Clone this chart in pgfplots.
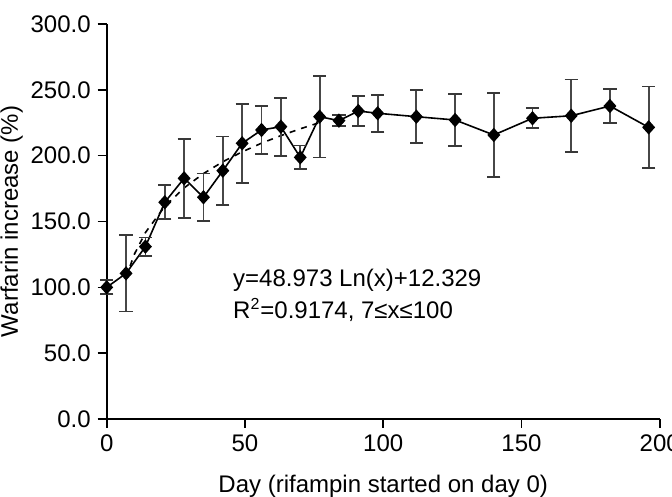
\documentclass[border=0pt]{standalone}
\usepackage{pgfplots}
\pgfplotsset{compat=1.18}
\usepackage{pgfplotstable}
\usepackage{fontspec}
\setmainfont{Liberation Sans}

% Mean warfarin dose increase by day, with error (+/-)
\pgfplotstableread{
day  inc    err
0    100.0  5.3
7    110.6  29.0
14   130.9  7.0
21   164.6  13.0
28   182.8  30.0
35   168.4  18.0
42   188.6  26.0
49   209.4  30.0
56   219.5  18.0
63   222.0  22.0
70   198.7  9.0
77   229.6  31.0
84   226.6  4.0
91   233.9  11.5
98   232.2  14.0
112  229.6  20.0
126  227.1  20.0
140  215.7  32.0
154  228.4  7.5
168  230.3  27.5
182  237.7  12.7
196  221.5  31.0
}\warfarin

% Logarithmic trend line
\pgfplotstableread{
day  fit
7    107.6
10   125.1
14   141.6
21   161.4
28   175.5
35   186.4
42   195.4
49   202.9
56   209.5
63   215.2
70   220.4
77   225.1
}\trend

\begin{document}
\begin{tikzpicture}
\begin{axis}[
  scale only axis,
  width=276.5pt, height=197.5pt,
  xmin=0, xmax=200, ymin=0, ymax=300,
  axis lines*=left,
  axis line style={line width=0.8pt, -},
  tick align=outside,
  major tick length=4.5pt,
  tick style={line width=0.8pt, black},
  xtick={0,50,...,200},
  ytick={0,50,...,300},
  clip=false,
  tick label style={font=\fontsize{12}{14}\selectfont},
  /pgf/number format/assume math mode=true,
  yticklabel style={/pgf/number format/.cd, fixed, fixed zerofill, precision=1},
  xlabel={Day (rifampin started on day 0)},
  ylabel={Warfarin increase (\%)},
  label style={font=\fontsize{12}{14}\selectfont},
  xlabel style={at={(axis description cs:0.5,-0.1873)}, anchor=base},
  ylabel style={at={(axis description cs:-0.172,0.5)}, anchor=center},
]
\addplot[black, dashed, line width=0.8pt] table[x=day, y=fit] {\trend};
\addplot[black, line width=0.8pt, mark=diamond*, mark size=3pt,
  mark options={solid, xscale=1.2},
  error bars/.cd, y dir=both, y explicit,
  error bar style={line width=0.9pt, black!72},
  error mark options={rotate=90, mark size=3.3pt, line width=0.9pt, black!78}]
  table[x=day, y=inc, y error=err] {\warfarin};
\node[anchor=base west, inner sep=0, font=\fontsize{12}{14}\selectfont]
  at (axis cs:45.6,100.5) {y=48.973 Ln(x)+12.329};
\node[anchor=base west, inner sep=0, font=\fontsize{12}{14}\selectfont]
  at (axis cs:45.6,76.5) {R\textsuperscript{2}=0.9174, 7≤x≤100};
\end{axis}
\pgfresetboundingbox
\path[use as bounding box] (-53.35pt,-38.5pt) rectangle (282.65pt,209.5pt);
\end{tikzpicture}
\end{document}
